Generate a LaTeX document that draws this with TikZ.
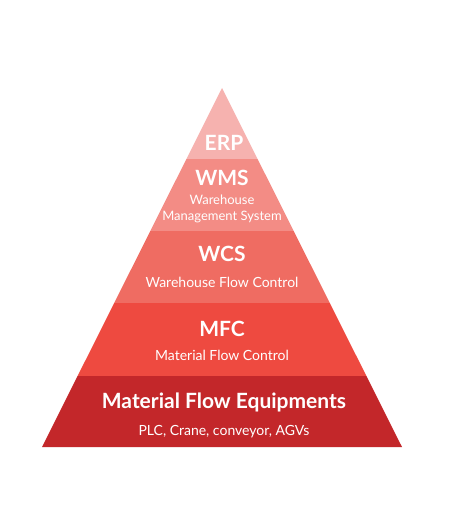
\documentclass[tikz,border=0pt]{standalone}
\usepackage{fontspec}
\setmainfont{Lato}
\definecolor{cERP}{RGB}{246,178,175}
\definecolor{cWMS}{RGB}{243,140,133}
\definecolor{cWCS}{RGB}{239,108,98}
\definecolor{cMFC}{RGB}{238,74,64}
\definecolor{cMAT}{RGB}{195,39,42}
\begin{document}
\begin{tikzpicture}[x=1pt,y=-1pt,
  ttl/.style={text=white,font=\bfseries\fontsize{21}{24}\selectfont,inner sep=0pt,anchor=base},
  sub/.style={text=white,font=\fontsize{14}{16.7}\selectfont,inner sep=0pt,anchor=base},
  subsm/.style={sub,font=\fontsize{13}{16}\selectfont}]
\useasboundingbox (0,0) rectangle (457,524);
\fill[cERP] (222,88) -- (257.6,159) -- (186.4,159) -- cycle;
\fill[cWMS] (186.4,159) -- (257.6,159) -- (293.7,231) -- (150.3,231) -- cycle;
\fill[cWCS] (150.3,231) -- (293.7,231) -- (329.8,303) -- (114.2,303) -- cycle;
\fill[cMFC] (114.2,303) -- (329.8,303) -- (366.4,376) -- (77.6,376) -- cycle;
\fill[cMAT] (77.6,376) -- (366.4,376) -- (402,447) -- (42,447) -- cycle;
\node[ttl] (erp) at (224,150) {ERP};
\node[ttl] (wms) at (222,185) {WMS};
\node[subsm] (wmsa) at (222,204) {Warehouse};
\node[subsm] (wmsb) at (222,220.7) {Management System};
\node[ttl] (wcs) at (222,261.7) {WCS};
\node[sub] (wcss) at (222,287.3) {Warehouse Flow Control};
\node[ttl] (mfc) at (222,336.7) {MFC};
\node[sub] (mfcs) at (222,360.7) {Material Flow Control};
\node[ttl] (mat) at (224,408) {Material Flow Equipments};
\node[sub] (mats) at (224,435) {PLC, Crane, conveyor, AGVs};
\end{tikzpicture}
\end{document}
